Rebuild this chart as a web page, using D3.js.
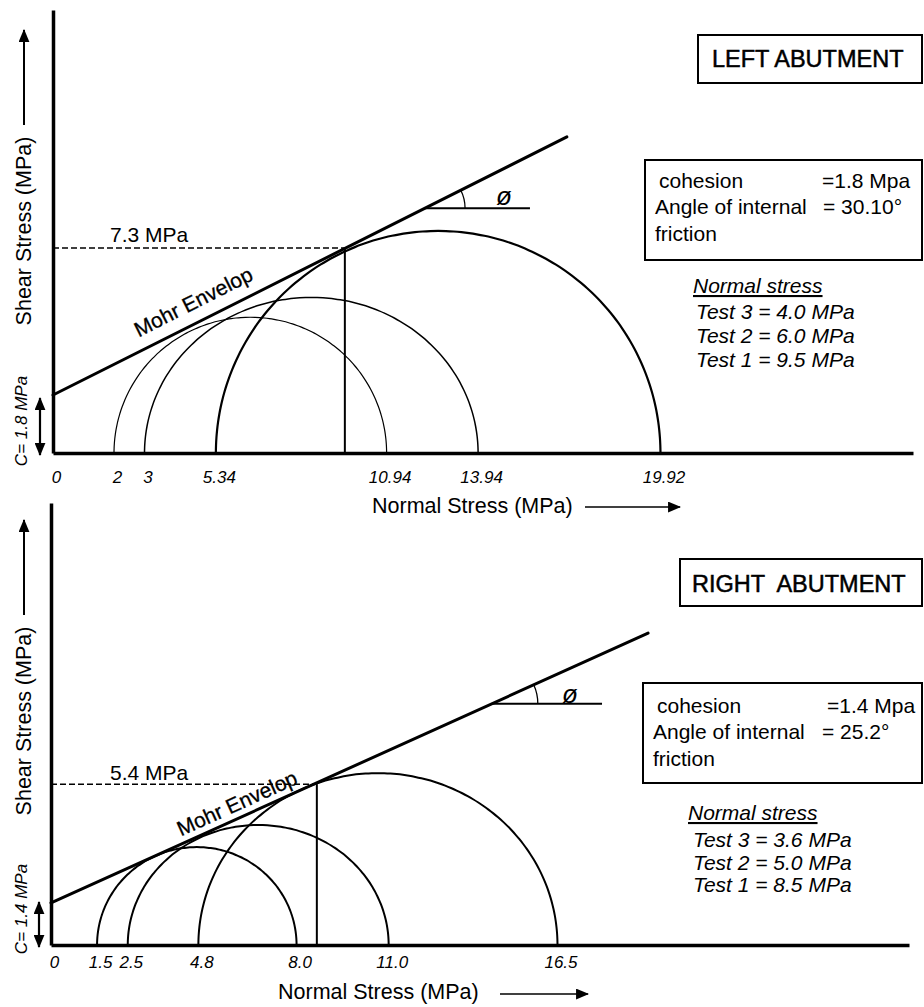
<!DOCTYPE html>
<html>
<head>
<meta charset="utf-8">
<script src="https://cdn.jsdelivr.net/npm/d3@7"></script>
<style>
  html, body { margin: 0; padding: 0; background: #fff; }
  svg { display: block; }
  text { font-family: "Liberation Sans", Arial, Helvetica, sans-serif; fill: #000; }
</style>
</head>
<body>
<svg id="chart" width="924" height="1007"></svg>
<script>
// ---------------- DATA: LEFT ABUTMENT (top panel) ----------------
const leftTitle = "LEFT ABUTMENT";
const leftTickValues = [0, 2, 3, 5.34, 10.94, 13.94, 19.92];
const leftTickLabels = ["0", "2", "3", "5.34", "10.94", "13.94", "19.92"];
const leftSigma3 = [2, 3, 5.34];            // circle left ends
const leftSigma1 = [10.94, 13.94, 19.92];   // circle right ends
const leftPeakTau = [4.45, 5.1, 7.28];      // drawn circle heights
const leftTestNames = ["Test 3", "Test 2", "Test 1"];
const leftTestStress = ["4.0", "6.0", "9.5"];
const leftEnvelopeSigma = [0, 16.85];
const leftEnvelopeTau = [1.9, 10.36];
const leftCohesion = 1.8;
const leftCohesionText = "1.8";
const leftPhiText = "30.10°";
const leftTangentSigma = 9.57;
const leftTangentTau = 6.72;
const leftTauLabel = "7.3 MPa";
const leftPhiMarkSigma = [12.2, 15.64];

// ---------------- DATA: RIGHT ABUTMENT (bottom panel) ----------------
const rightTitle = "RIGHT  ABUTMENT";
const rightTickValues = [0, 1.5, 2.5, 4.8, 8.0, 11.0, 16.5];
const rightTickLabels = ["0", "1.5", "2.5", "4.8", "8.0", "11.0", "16.5"];
const rightSigma3 = [1.5, 2.5, 4.8];
const rightSigma1 = [8.0, 11.0, 16.5];
const rightPeakTau = [3.19, 3.91, 5.6];
const rightTestNames = ["Test 3", "Test 2", "Test 1"];
const rightTestStress = ["3.6", "5.0", "8.5"];
const rightEnvelopeSigma = [0, 19.45];
const rightEnvelopeTau = [1.37, 10.16];
const rightCohesion = 1.4;
const rightCohesionText = "1.4";
const rightPhiText = "25.2°";
const rightTangentSigma = 8.66;
const rightTangentTau = 5.24;
const rightTauLabel = "5.4 MPa";
const rightPhiMarkSigma = [14.36, 17.95];

// ---------------- LAYOUT ----------------
const svg = d3.select("#chart");
const FONT = "Liberation Sans, Arial, Helvetica, sans-serif";

const defs = svg.append("defs");
defs.append("marker")
  .attr("id", "head").attr("viewBox", "0 0 12 10")
  .attr("refX", 11).attr("refY", 5)
  .attr("markerWidth", 13).attr("markerHeight", 11)
  .attr("markerUnits", "userSpaceOnUse")
  .attr("orient", "auto-start-reverse")
  .append("path").attr("d", "M0,0 L12,5 L0,10 Z").attr("fill", "#000");

const panels = [
  {
    title: leftTitle, ticks: leftTickValues, tickLabels: leftTickLabels,
    s3: leftSigma3, s1: leftSigma1, peaks: leftPeakTau,
    testNames: leftTestNames, testStress: leftTestStress,
    envS: leftEnvelopeSigma, envT: leftEnvelopeTau,
    cohesion: leftCohesion, cohText: leftCohesionText, phiText: leftPhiText,
    tanS: leftTangentSigma, tanT: leftTangentTau, tauLabel: leftTauLabel,
    phiS: leftPhiMarkSigma,
    L: {
      xRange: [53, 913], xDomain: [0, 28.2], yRange: [453, 10], yDomain: [0, 14.52],
      circleWidths: [1.2, 1.5, 2.2],
      tickBaseline: 483,
      xTitle: { x: 372, y: 513, arrowX: [585, 680], arrowY: 507 },
      yTitle: { x: 31, y: 231, arrowY: [125, 30], arrowX: 24 },
      cLabel: { x: 27, y: 421 }, cArrowX: 40,
      titleBox: { x: 698, y: 35, w: 224, h: 48, tx: 712, ty: 67 },
      infoBox: { x: 645, y: 160, w: 277, h: 100, tx1: 659, tx2: 655, vx1: 822, vx2: 823, ys: [188, 214, 241] },
      legend: { x: 693, tx: 696, ys: [293, 319, 343, 367] },
      tauLabelPos: { x: 110, dy: -6 },
      mohrLabel: { s: 4.9, off: 13 },
      phiArcR: 40, phiGlyph: { x: 496, y: 205 }
    }
  },
  {
    title: rightTitle, ticks: rightTickValues, tickLabels: rightTickLabels,
    s3: rightSigma3, s1: rightSigma1, peaks: rightPeakTau,
    testNames: rightTestNames, testStress: rightTestStress,
    envS: rightEnvelopeSigma, envT: rightEnvelopeTau,
    cohesion: rightCohesion, cohText: rightCohesionText, phiText: rightPhiText,
    tanS: rightTangentSigma, tanT: rightTangentTau, tauLabel: rightTauLabel,
    phiS: rightPhiMarkSigma,
    L: {
      xRange: [51, 909], xDomain: [0, 27.95], yRange: [945, 503], yDomain: [0, 14.4],
      circleWidths: [2, 2, 2],
      tickBaseline: 968,
      xTitle: { x: 278, y: 999, arrowX: [500, 588], arrowY: 994 },
      yTitle: { x: 31, y: 721, arrowY: [615, 520], arrowX: 24 },
      cLabel: { x: 27, y: 909 }, cArrowX: 39,
      titleBox: { x: 680, y: 559, w: 242, h: 47, tx: 692, ty: 592 },
      infoBox: { x: 643, y: 683, w: 279, h: 100, tx1: 657, tx2: 653, vx1: 827, vx2: 822, ys: [713, 739, 766] },
      legend: { x: 688, tx: 693, ys: [820, 847, 870, 892] },
      tauLabelPos: { x: 110, dy: -4 },
      mohrLabel: { s: 6.25, off: 7 },
      phiArcR: 46, phiGlyph: { x: 562, y: 703 }
    }
  }
];

panels.forEach(p => drawPanel(svg.append("g"), p));

function drawPanel(g, p) {
  const L = p.L;
  const x = d3.scaleLinear().domain(L.xDomain).range(L.xRange);
  const y = d3.scaleLinear().domain(L.yDomain).range(L.yRange);

  // Mohr circles (semicircles)
  const thetas = d3.range(0, 181, 2).map(d => d * Math.PI / 180);
  const arc = d3.line().x(d => x(d[0])).y(d => y(d[1])).curve(d3.curveBasis);
  p.s3.forEach((s3, i) => {
    const c = (s3 + p.s1[i]) / 2, r = (p.s1[i] - s3) / 2;
    const pts = thetas.map(t => [c + r * Math.cos(t), p.peaks[i] * Math.sin(t)]);
    g.append("path").attr("d", arc(pts)).attr("fill", "none")
      .attr("stroke", "#000").attr("stroke-width", L.circleWidths[i]);
  });

  // Mohr envelope
  const envLine = d3.line().x(d => x(d[0])).y(d => y(d[1]));
  const envPts = p.envS.map((s, i) => [s, p.envT[i]]);
  g.append("path").attr("d", envLine(envPts)).attr("fill", "none")
    .attr("stroke", "#000").attr("stroke-width", 3).attr("stroke-linecap", "round");

  // tangent: vertical line and dashed horizontal line
  g.append("line").attr("x1", x(p.tanS)).attr("x2", x(p.tanS))
    .attr("y1", y(p.tanT)).attr("y2", y(0))
    .attr("stroke", "#000").attr("stroke-width", 2);
  g.append("line").attr("x1", x(0)).attr("x2", x(p.tanS))
    .attr("y1", y(p.tanT)).attr("y2", y(p.tanT))
    .attr("stroke", "#000").attr("stroke-width", 1.5).attr("stroke-dasharray", "6,3");
  g.append("text").attr("x", L.tauLabelPos.x).attr("y", y(p.tanT) + L.tauLabelPos.dy)
    .attr("font-size", 21).text(p.tauLabel);

  // envelope slope helpers
  const slope = (p.envT[1] - p.envT[0]) / (p.envS[1] - p.envS[0]);
  const envAt = s => p.envT[0] + slope * (s - p.envS[0]);
  const angPx = Math.atan2(y(envAt(10)) - y(envAt(0)), x(10) - x(0)); // negative (upwards)

  // "Mohr Envelop" label
  {
    const s = L.mohrLabel.s;
    const px = x(s), py = y(envAt(s));
    const nx = Math.sin(angPx) * L.mohrLabel.off, ny = -Math.cos(angPx) * L.mohrLabel.off;
    g.append("text")
      .attr("transform", `translate(${px + nx},${py + ny}) rotate(${angPx * 180 / Math.PI})`)
      .attr("text-anchor", "middle").attr("font-size", 21)
      .attr("stroke", "#000").attr("stroke-width", 0.3).text("Mohr Envelop");
  }

  // phi mark
  {
    const s0 = p.phiS[0], s1 = p.phiS[1];
    const px = x(s0), py = y(envAt(s0));
    g.append("line").attr("x1", px).attr("x2", x(s1)).attr("y1", py).attr("y2", py)
      .attr("stroke", "#000").attr("stroke-width", 2);
    const R = L.phiArcR;
    const a = angPx;
    g.append("path")
      .attr("d", `M${px + R},${py} A${R},${R} 0 0 0 ${px + R * Math.cos(a)},${py + R * Math.sin(a)}`)
      .attr("fill", "none").attr("stroke", "#000").attr("stroke-width", 1.3);
    g.append("text").attr("x", L.phiGlyph.x).attr("y", L.phiGlyph.y)
      .attr("font-size", 26).attr("font-style", "italic").text("ø");
  }

  // axes
  const xAxis = d3.axisBottom(x).tickValues(p.ticks)
    .tickFormat((d, i) => p.tickLabels[i]).tickSize(0).tickPadding(0);
  const xg = g.append("g").attr("transform", `translate(0,${L.yRange[0]})`).call(xAxis);
  xg.select(".domain").attr("stroke", "#000").attr("stroke-width", 3.5);
  xg.selectAll(".tick text")
    .attr("font-family", FONT).attr("font-size", 17).attr("font-style", "italic")
    .attr("dy", null).attr("y", L.tickBaseline - L.yRange[0]).attr("dx", 3)
    .attr("fill", "#000");

  const yAxis = d3.axisLeft(y).tickValues([]).tickSize(0);
  const yg = g.append("g").attr("transform", `translate(${L.xRange[0]},0)`).call(yAxis);
  yg.select(".domain").attr("stroke", "#000").attr("stroke-width", 3.5);

  // axis titles
  g.append("text").attr("x", L.xTitle.x).attr("y", L.xTitle.y)
    .attr("font-size", 21.5).text("Normal Stress (MPa)");
  g.append("line").attr("x1", L.xTitle.arrowX[0]).attr("x2", L.xTitle.arrowX[1])
    .attr("y1", L.xTitle.arrowY).attr("y2", L.xTitle.arrowY)
    .attr("stroke", "#000").attr("stroke-width", 1.5).attr("marker-end", "url(#head)");

  g.append("text").attr("transform", `translate(${L.yTitle.x},${L.yTitle.y}) rotate(-90)`)
    .attr("text-anchor", "middle").attr("font-size", 21.5).text("Shear Stress (MPa)");
  g.append("line").attr("x1", L.yTitle.arrowX).attr("x2", L.yTitle.arrowX)
    .attr("y1", L.yTitle.arrowY[0]).attr("y2", L.yTitle.arrowY[1])
    .attr("stroke", "#000").attr("stroke-width", 2).attr("marker-end", "url(#head)");

  // cohesion arrow + label
  g.append("line").attr("x1", L.cArrowX).attr("x2", L.cArrowX)
    .attr("y1", y(0) + 2).attr("y2", y(p.cohesion))
    .attr("stroke", "#000").attr("stroke-width", 2.2)
    .attr("marker-start", "url(#head)").attr("marker-end", "url(#head)");
  g.append("text").attr("transform", `translate(${L.cLabel.x},${L.cLabel.y}) rotate(-90)`)
    .attr("text-anchor", "middle").attr("font-size", 17).attr("font-style", "italic")
    .text(`C= ${p.cohText} MPa`);

  // title box
  const tb = L.titleBox;
  g.append("rect").attr("x", tb.x).attr("y", tb.y).attr("width", tb.w).attr("height", tb.h)
    .attr("fill", "none").attr("stroke", "#000").attr("stroke-width", 2);
  g.append("text").attr("x", tb.tx).attr("y", tb.ty).attr("font-size", 23.5)
    .attr("stroke", "#000").attr("stroke-width", 0.5)
    .style("white-space", "pre").text(p.title);

  // info box
  const ib = L.infoBox;
  g.append("rect").attr("x", ib.x).attr("y", ib.y).attr("width", ib.w).attr("height", ib.h)
    .attr("fill", "none").attr("stroke", "#000").attr("stroke-width", 2);
  g.append("text").attr("x", ib.tx1).attr("y", ib.ys[0]).attr("font-size", 21).text("cohesion");
  g.append("text").attr("x", ib.vx1).attr("y", ib.ys[0]).attr("font-size", 21).text(`=${p.cohText} Mpa`);
  g.append("text").attr("x", ib.tx2).attr("y", ib.ys[1]).attr("font-size", 21).text("Angle of internal");
  g.append("text").attr("x", ib.vx2).attr("y", ib.ys[1]).attr("font-size", 21).text(`= ${p.phiText}`);
  g.append("text").attr("x", ib.tx2).attr("y", ib.ys[2]).attr("font-size", 21).text("friction");

  // normal stress legend
  const lg = L.legend;
  g.append("text").attr("x", lg.x).attr("y", lg.ys[0]).attr("font-size", 21)
    .attr("font-style", "italic").attr("text-decoration", "underline").text("Normal stress");
  p.testNames.forEach((t, i) => {
    g.append("text").attr("x", lg.tx).attr("y", lg.ys[i + 1]).attr("font-size", 21)
      .attr("font-style", "italic").text(`${t} = ${p.testStress[i]} MPa`);
  });
}
</script>
</body>
</html>
